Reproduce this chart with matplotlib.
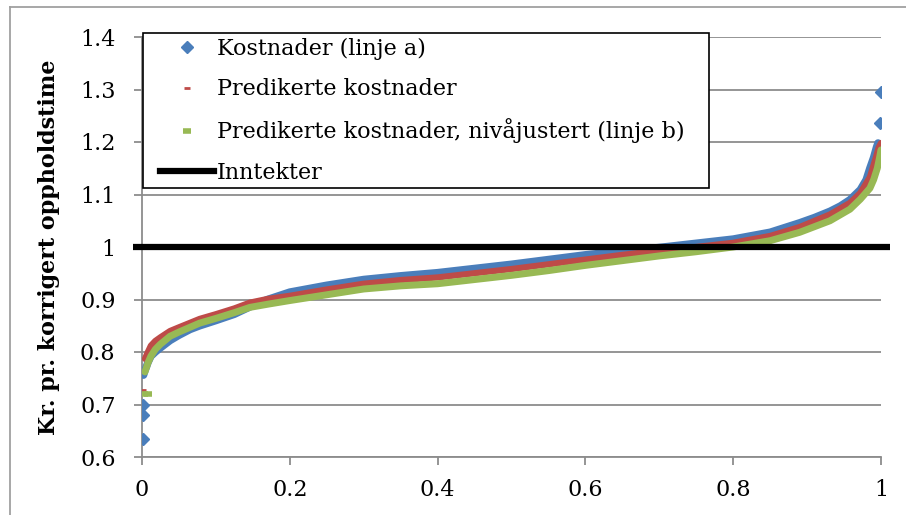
import matplotlib
matplotlib.use("Agg")
import matplotlib.pyplot as plt
from matplotlib.lines import Line2D
from matplotlib.patches import Rectangle

plt.rcParams['font.family'] = ['DejaVu Serif']

# Kostnader (linje a) - band and the single outliers at both ends
kost_x = [0.002, 0.004, 0.006, 0.008, 0.012, 0.018, 0.025, 0.038, 0.05, 0.065,
          0.078, 0.1, 0.125, 0.146, 0.17, 0.2, 0.25, 0.3, 0.35, 0.4,
          0.45, 0.5, 0.55, 0.6, 0.65, 0.7, 0.75, 0.8, 0.85, 0.89,
          0.91, 0.931, 0.945, 0.958, 0.972, 0.98, 0.985, 0.99, 0.994, 0.996]
kost_y = [0.756, 0.765, 0.772, 0.780, 0.792, 0.800, 0.808, 0.822, 0.832, 0.843,
          0.850, 0.860, 0.872, 0.886, 0.900, 0.914, 0.927, 0.938, 0.945, 0.951,
          0.959, 0.967, 0.976, 0.985, 0.992, 0.999, 1.007, 1.015, 1.028, 1.046,
          1.056, 1.068, 1.078, 1.090, 1.109, 1.128, 1.150, 1.170, 1.190, 1.198]
kost_out_x = [0.0015, 0.0015, 0.0015, 0.998, 1.0]
kost_out_y = [0.634, 0.680, 0.699, 1.236, 1.295]

# Predikerte kostnader
pred_x = [0.004, 0.008, 0.012, 0.018, 0.025, 0.038, 0.05, 0.078, 0.1, 0.125,
          0.146, 0.17, 0.2, 0.25, 0.3, 0.35, 0.4, 0.45, 0.5, 0.55,
          0.6, 0.65, 0.7, 0.75, 0.8, 0.85, 0.89, 0.931, 0.958, 0.972,
          0.985, 0.993, 0.997, 1.0]
pred_y = [0.787, 0.800, 0.812, 0.821, 0.828, 0.840, 0.847, 0.863, 0.872, 0.883,
          0.894, 0.901, 0.907, 0.919, 0.930, 0.937, 0.942, 0.950, 0.958, 0.967,
          0.976, 0.985, 0.993, 1.000, 1.008, 1.021, 1.038, 1.062, 1.084, 1.103,
          1.133, 1.170, 1.190, 1.198]
pred_out_x = [0.002]
pred_out_y = [0.727]

# Predikerte kostnader, nivajustert (linje b)
niva_x = [0.004, 0.008, 0.012, 0.018, 0.025, 0.038, 0.05, 0.078, 0.1, 0.125,
          0.146, 0.17, 0.2, 0.25, 0.3, 0.35, 0.4, 0.45, 0.5, 0.55,
          0.6, 0.65, 0.7, 0.75, 0.8, 0.85, 0.89, 0.931, 0.958, 0.972,
          0.985, 0.99, 0.995, 0.998, 1.0]
niva_y = [0.762, 0.779, 0.792, 0.805, 0.815, 0.830, 0.838, 0.855, 0.864, 0.875,
          0.885, 0.891, 0.898, 0.909, 0.920, 0.926, 0.930, 0.938, 0.946, 0.955,
          0.965, 0.974, 0.983, 0.991, 1.000, 1.012, 1.028, 1.050, 1.072, 1.091,
          1.112, 1.128, 1.150, 1.170, 1.185]
niva_out_x = [0.003, 0.008]
niva_out_y = [0.720, 0.720]

inntekt_x = [-0.012, 1.012]
inntekt_y = [1.0, 1.0]

yticks = [0.6, 0.7, 0.8, 0.9, 1.0, 1.1, 1.2, 1.3, 1.4]
ytick_labels = ['0.6', '0.7', '0.8', '0.9', '1', '1.1', '1.2', '1.3', '1.4']
xticks = [0, 0.2, 0.4, 0.6, 0.8, 1.0]
xtick_labels = ['0', '0.2', '0.4', '0.6', '0.8', '1']

blue = '#4a7ebb'
red = '#be4b48'
green = '#98b954'
grid = '#8c8c8c'
fs = 16

fig = plt.figure(figsize=(9.06, 5.15), dpi=100)
ax = fig.add_axes([142 / 906, 58 / 515, 739 / 906, 420 / 515])

# thick bands made by the dense markers
ax.plot(kost_x, kost_y, color=blue, lw=5.5, solid_capstyle='round', zorder=3)
ax.plot(kost_out_x, kost_out_y, ls='none', marker='D', ms=6, color=blue, zorder=3)
ax.plot(pred_x, pred_y, color=red, lw=4.5, solid_capstyle='round', zorder=4)
ax.plot(pred_out_x, pred_out_y, ls='none', marker='_', ms=4, mew=2, color=red, zorder=4)
ax.plot(niva_x, niva_y, color=green, lw=5, solid_capstyle='round', zorder=5)
ax.plot(niva_out_x, niva_out_y, ls='none', marker='_', ms=6, mew=4, color=green, zorder=5)

ax.plot(inntekt_x, inntekt_y, color='black', lw=4.5, solid_capstyle='butt',
        clip_on=False, zorder=6)

ax.set_xlim(0, 1)
ax.set_ylim(0.6, 1.4)
ax.set_yticks(yticks)
ax.set_yticklabels(ytick_labels)
ax.set_xticks(xticks)
ax.set_xticklabels(xtick_labels)
ax.yaxis.grid(True, color=grid, lw=1.3)
ax.set_axisbelow(True)
for s in ['top', 'right']:
    ax.spines[s].set_visible(False)
for s in ['left', 'bottom']:
    ax.spines[s].set_color(grid)
    ax.spines[s].set_linewidth(1.3)
ax.tick_params(axis='both', colors=grid, width=1.3, length=6, labelsize=fs,
               labelcolor='black', pad=10)
ax.tick_params(axis='y', pad=13)
ax.set_ylabel('Kr. pr. korrigert oppholdstime', fontsize=fs, fontweight='bold')
ax.yaxis.set_label_coords(-0.111, 0.5)

# legend box drawn separately so the inner padding matches
ax.add_patch(Rectangle((143 / 906, 1 - 188 / 515), 566 / 906, 155 / 515,
                       transform=fig.transFigure, facecolor='white',
                       edgecolor='black', lw=1.2, clip_on=False, zorder=9))
handles = [
    Line2D([], [], ls='none', marker='D', ms=6, color=blue),
    Line2D([], [], ls='none', marker='_', ms=4, mew=2, color=red),
    Line2D([], [], ls='none', marker='_', ms=6, mew=4, color=green),
    Line2D([], [], color='black', lw=4.5),
]
labels = ['Kostnader (linje a)', 'Predikerte kostnader',
          'Predikerte kostnader, nivåjustert (linje b)', 'Inntekter']
leg = ax.legend(handles, labels, loc='upper left',
                bbox_to_anchor=(160 / 906, 1 - 38 / 515),
                bbox_transform=fig.transFigure, borderaxespad=0, borderpad=0,
                fontsize=fs, frameon=False, handlelength=2.45, handletextpad=0.1,
                labelspacing=0.82)
leg.set_zorder(10)

# outer chart border
fig.add_artist(Line2D([10 / 906, 10 / 906], [0, 1 - 7 / 515], transform=fig.transFigure,
                      color='#a0a0a0', lw=1.3))
fig.add_artist(Line2D([10 / 906, 1], [1 - 7 / 515, 1 - 7 / 515], transform=fig.transFigure,
                      color='#a0a0a0', lw=1.3))

fig.savefig('out.png', dpi=100)
